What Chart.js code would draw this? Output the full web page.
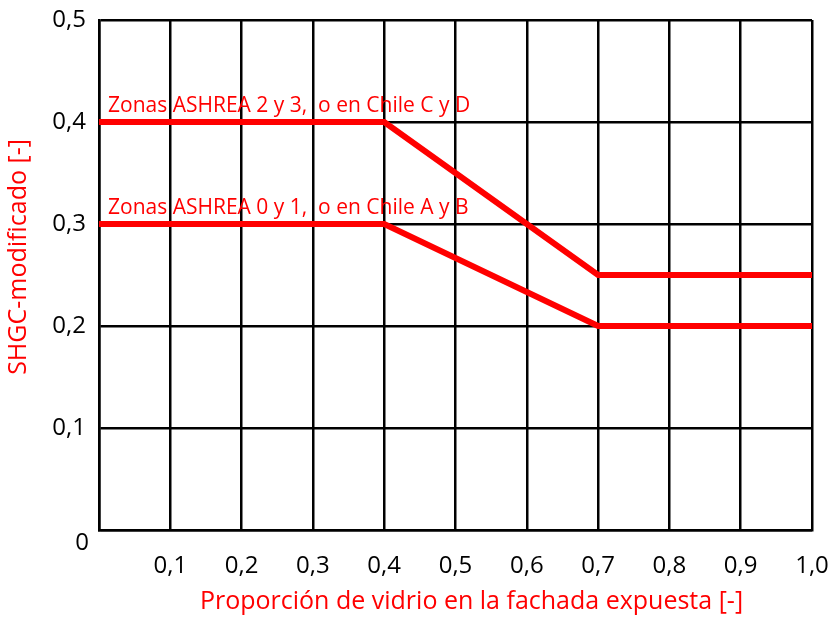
<!DOCTYPE html>
<html>
<head>
<meta charset="utf-8">
<script src="https://cdn.jsdelivr.net/npm/chart.js@4/dist/chart.umd.min.js"></script>
<style>
	html, body { margin: 0; padding: 0; background: #fff; }
	#wrap { width: 834px; height: 619px; }
</style>
</head>
<body>
<div id="wrap"><canvas id="c" width="834" height="619"></canvas></div>
<script>
'use strict';

// proporcion de vidrio (x) and SHGC limits (y)
var proporcion = [0, 0.4, 0.7, 1.0],
	shgcZona23 = [0.4, 0.4, 0.25, 0.25],
	shgcZona01 = [0.3, 0.3, 0.2, 0.2],
	etiquetas = [
		'Zonas ASHREA 2 y 3,  o en Chile C y D',
		'Zonas ASHREA 0 y 1,  o en Chile A y B'
	],
	tituloX = 'Proporción de vidrio en la fachada expuesta [-]',
	tituloY = 'SHGC-modificado [-]';

var RED = '#ff0000',
	FONT = '"Open Sans", "Noto Sans", sans-serif';

function puntos(ys) {
	return proporcion.map(function (x, i) {
		return { x: x, y: ys[i] };
	});
}

function coma(v, dec) {
	return v.toFixed(dec).replace('.', ',');
}

// draws axis titles, the corner zero and the line labels
var textos = {
	id: 'textos',
	afterDraw: function (chart) {
		var ctx = chart.ctx,
			xs = chart.scales.x,
			ys = chart.scales.y,
			area = chart.chartArea;

		ctx.save();
		ctx.fillStyle = RED;
		ctx.font = '21px ' + FONT;
		ctx.textAlign = 'left';
		ctx.textBaseline = 'alphabetic';
		ctx.fillText(etiquetas[0], xs.getPixelForValue(0) + 9, ys.getPixelForValue(shgcZona23[0]) - 10);
		ctx.fillText(etiquetas[1], xs.getPixelForValue(0) + 9, ys.getPixelForValue(shgcZona01[0]) - 10);

		ctx.font = '25px ' + FONT;
		ctx.textAlign = 'center';
		ctx.textBaseline = 'middle';
		ctx.fillText(tituloX, (area.left + area.right) / 2 + 16, 602);

		ctx.save();
		ctx.translate(19, (area.top + area.bottom) / 2 - 18);
		ctx.rotate(-Math.PI / 2);
		ctx.fillText(tituloY, 0, 0);
		ctx.restore();

		ctx.fillStyle = '#000';
		ctx.font = '24px ' + FONT;
		ctx.textAlign = 'right';
		ctx.fillText('0', area.left - 10, area.bottom + 13);
		ctx.restore();
	}
};

var linea = function (ys) {
	return {
		data: puntos(ys),
		borderColor: RED,
		borderWidth: 6,
		pointRadius: 0,
		fill: false,
		tension: 0,
		borderCapStyle: 'butt',
		borderJoinStyle: 'miter'
	};
};

new Chart(document.getElementById('c'), {
	type: 'line',
	data: {
		datasets: [linea(shgcZona23), linea(shgcZona01)]
	},
	options: {
		responsive: false,
		animation: false,
		layout: { padding: { top: 20, right: 22, left: 0, bottom: 0 } },
		plugins: {
			legend: { display: false },
			tooltip: { enabled: false }
		},
		scales: {
			x: {
				type: 'linear',
				min: 0,
				max: 1,
				afterFit: function (scale) {
					scale.height = 89;
					scale.paddingLeft = 0;
					scale.paddingRight = 0;
				},
				ticks: {
					stepSize: 0.1,
					padding: 22,
					color: '#000',
					font: { family: FONT, size: 24 },
					maxRotation: 0,
					callback: function (v) { return v === 0 ? '' : coma(v, 1); }
				},
				grid: { color: '#000', lineWidth: 2.5, drawTicks: false },
				border: { color: '#000', width: 2.5 }
			},
			y: {
				min: 0,
				max: 0.5,
				afterFit: function (scale) {
					scale.width = 99;
					scale.paddingTop = 0;
					scale.paddingBottom = 0;
				},
				ticks: {
					stepSize: 0.1,
					padding: 13,
					color: '#000',
					font: { family: FONT, size: 24 },
					callback: function (v) { return v === 0 ? '' : coma(v, 1); }
				},
				grid: { color: '#000', lineWidth: 2.5, drawTicks: false },
				border: { color: '#000', width: 2.5 }
			}
		}
	},
	plugins: [textos]
});
</script>
</body>
</html>
